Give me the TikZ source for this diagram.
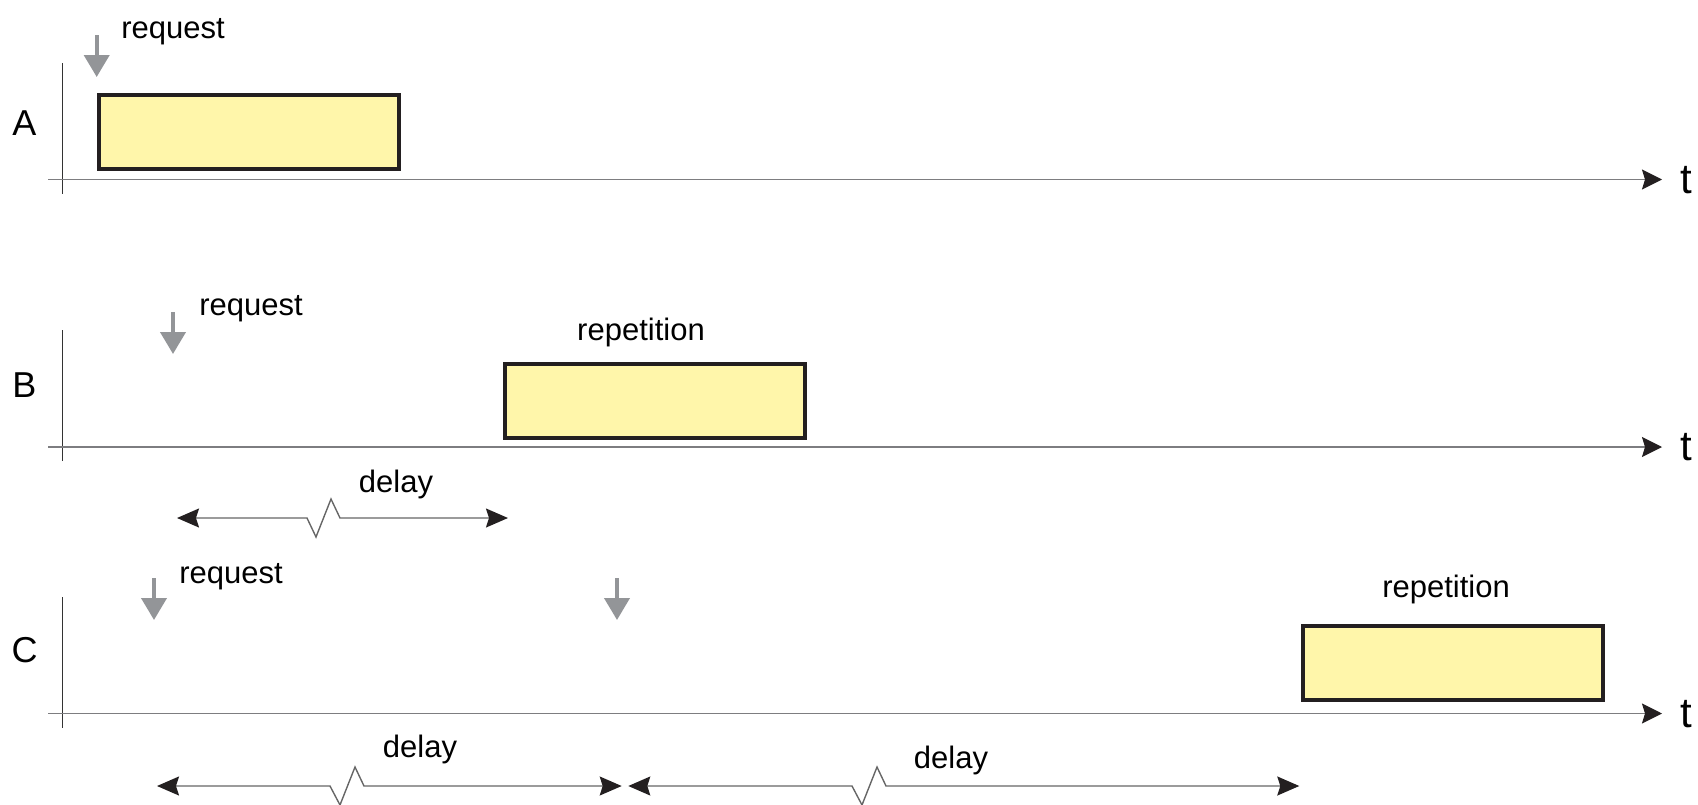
\documentclass[tikz,border=0pt]{standalone}
\usepackage{fontspec}
\setmainfont{Liberation Sans}
\usetikzlibrary{arrows.meta}

\definecolor{slotfill}{RGB}{255,246,170}
\definecolor{slotline}{RGB}{35,31,32}
\definecolor{reqgray}{RGB}{147,149,152}
\definecolor{axisgray}{RGB}{125,125,128}

\tikzset{
  lbl/.style={font=\fontsize{15.5}{18}\selectfont, anchor=base, inner sep=0pt},
  rowlbl/.style={font=\fontsize{18}{21}\selectfont, inner sep=0pt},
  tlbl/.style={font=\fontsize{21}{24}\selectfont, anchor=base, inner sep=0pt},
  slot/.style={draw=slotline, line width=2pt, fill=slotfill, minimum width=150pt, minimum height=37pt, inner sep=0pt},
  taxis/.style={draw=axisgray, line width=0.8pt, -{Stealth[length=10pt,width=10pt,inset=1.5pt,color=slotline]}},
  vaxis/.style={draw=black!80, line width=0.5pt},
  req/.style={draw=reqgray, line width=2pt, -{Triangle[length=11pt,width=12.5pt]}},
  span/.style={draw=black!60, line width=0.7pt,
    {Stealth[length=11pt,width=9.5pt,inset=1.5pt,color=slotline]}-{Stealth[length=11pt,width=9.5pt,inset=1.5pt,color=slotline]}},
}

\begin{document}
\begin{tikzpicture}[x=0.5pt,y=-0.5pt]
\useasboundingbox (0,0) rectangle (1698,804);
% rows with time axis
\foreach \r/\y/\ly in {A/179.5/123,B/447/385,C/713.5/650}
{
\node[rowlbl] (lbl\r) at (24.5,\ly) {\r};
\coordinate (o\r) at (48,\y);
\coordinate (e\r) at (1662,\y);
\draw[vaxis] (62.7,\y+14) -- (62.7,\y-117);
\draw[taxis] (o\r) -- (e\r);
\node[tlbl] (t\r) at (1686,\y+13.5) {t};
}
% requests
\coordinate (reqA) at (96.7,77);
\coordinate (reqB) at (173,354);
\coordinate (reqC) at (154,620);
\coordinate (reqCC) at (617,620);
\foreach \q in {reqA,reqB,reqC,reqCC}
\draw[req] (\q) ++(0,-42) -- (\q);
\node[lbl] (txtreqA) at (173,38.3) {request};
\node[lbl] (txtreqB) at (251,315) {request};
\node[lbl] (txtreqC) at (231,583) {request};
% transmissions
\node[slot] (slotA) at (249,132) {};
\node[slot] (slotB) at (655.3,401) {};
\node[slot] (slotC) at (1452.5,663) {};
\node[lbl] (repB) at (641,340) {repetition};
\node[lbl] (repC) at (1446,597) {repetition};
% delays
\coordinate (dBa) at (177,518);
\coordinate (dBb) at (508,518);
\draw[span] (dBa) -- (307,518) -- ++(9,19) -- ++(15,-38) -- ++(9,19) -- (dBb);
\node[lbl] (delB) at (396,492) {delay};
\coordinate (dCa) at (157,786);
\coordinate (dCb) at (621.7,786);
\draw[span] (dCa) -- (330,786) -- ++(10,19) -- ++(15,-38) -- ++(9,19) -- (dCb);
\node[lbl] (delC) at (420,757) {delay};
\coordinate (dCCa) at (628.3,786);
\coordinate (dCCb) at (1299.3,786);
\draw[span] (dCCa) -- (852,786) -- ++(10,19) -- ++(15,-38) -- ++(9,19) -- (dCCb);
\node[lbl] (delCC) at (951,768) {delay};
\end{tikzpicture}
\end{document}
